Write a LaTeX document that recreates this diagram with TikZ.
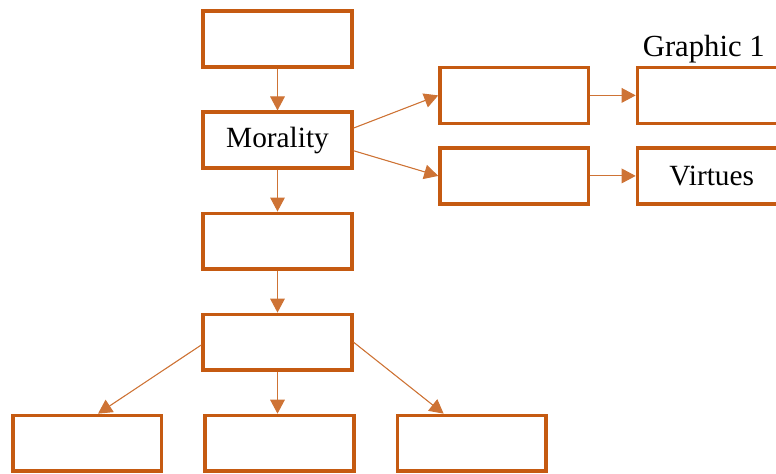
\documentclass[tikz,border=0pt]{standalone}
\usepackage{fontspec}
\setmainfont{Liberation Serif}
\usepackage{xcolor}
\usepackage{tikz}
\usetikzlibrary{positioning,arrows.meta}

\definecolor{rust}{HTML}{C55A11}

\begin{document}
\begin{tikzpicture}[
    x=0.75pt, y=-0.75pt,
    node distance=31.4pt and 30pt,
    box/.style={draw=rust, line width=2.6pt, fill=white, align=center, minimum height=41.8pt, minimum width=111.5pt, inner sep=0pt, font=\fontsize{22}{26}\selectfont},
    arrow/.style={-{Triangle[width=11pt,length=10.5pt]}, draw=rust!85, fill=rust, line width=0.8pt}
  ]
    \useasboundingbox (0,0) rectangle (776,474);
    \node[box] (top) at (277.5,39) {};
    \node[box, below=of top] (moral) {Morality};
    \node[box, below=of moral] (third) {};
    \node[box, below=of third] (fourth) {};
    \node[box, below=of fourth, xshift=1.5pt] (bmid) {};
    \node[box, left=of bmid] (bleft) {};
    \node[box, right=of bmid] (bright) {};
    \node[box, right=63.5pt of moral, yshift=33.5pt] (ra) {};
    \node[box, below=16pt of ra] (rb) {};
    \node[box, right=34pt of ra] (fa) {};
    \node[box, right=34pt of rb] (fb) {Virtues};
    \node[above=2pt of fa, xshift=-6pt, font=\fontsize{23}{27}\selectfont, inner sep=0pt] (cap) {Graphic 1};
    \draw[arrow] (top) -- (moral);
    \draw[arrow] (moral) -- (third);
    \draw[arrow] (third) -- (fourth);
    \draw[arrow] (fourth.south) -- (fourth.south |- bmid.north);
    \draw[arrow] ([yshift=9pt]moral.east) -- (ra.west);
    \draw[arrow] ([yshift=-8pt]moral.east) -- (rb.west);
    \draw[arrow] (ra) -- (fa);
    \draw[arrow] (rb) -- (fb);
    \draw[arrow] ([yshift=-2pt]fourth.west) -- ([xshift=8pt]bleft.north);
    \draw[arrow] (fourth.east) -- ([xshift=-21pt]bright.north);
  \end{tikzpicture}
\end{document}
